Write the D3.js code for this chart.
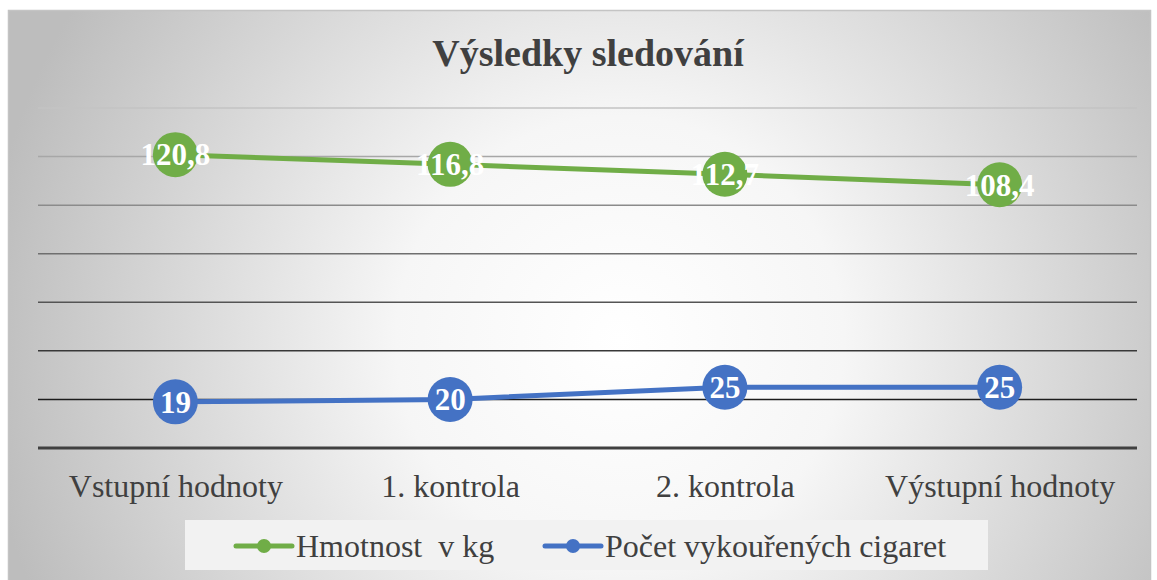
<!DOCTYPE html>
<html>
<head>
<meta charset="utf-8">
<script src="https://cdn.jsdelivr.net/npm/d3@7"></script>
<style>
  body { margin: 0; background: #fff; }
  svg { display: block; }
  svg text { font-family: "Liberation Serif", "Times New Roman", serif; }
</style>
</head>
<body>
<script>
// Chart data
let categories = ["Vstupní hodnoty", "1. kontrola", "2. kontrola", "Výstupní hodnoty"];
let weightValues = [120.8, 116.8, 112.7, 108.4];
let cigaretteValues = [19, 20, 25, 25];
let seriesNames = ["Hmotnost  v kg", "Počet vykouřených cigaret"];
let yTicks = [0, 20, 40, 60, 80, 100, 120, 140];

let svgWidth = 1157;
let svgHeight = 580;

let margin = { top: 108, right: 20, bottom: 132, left: 38 };
let chartWidth = 1137 - margin.left;
let chartHeight = 448 - margin.top;

let svg = d3.select("body")
  .append("svg")
  .attr("width", svgWidth)
  .attr("height", svgHeight);

// background gradient
let defs = svg.append("defs");
let grad = defs.append("radialGradient")
  .attr("id", "bg")
  .attr("gradientUnits", "userSpaceOnUse")
  .attr("cx", 620).attr("cy", 340).attr("r", 640);
grad.append("stop").attr("offset", "0%").attr("stop-color", "#ffffff");
grad.append("stop").attr("offset", "35%").attr("stop-color", "#f6f6f6");
grad.append("stop").attr("offset", "100%").attr("stop-color", "#bdbdbd");

svg.append("rect")
  .attr("x", 8.5).attr("y", 10.5)
  .attr("width", 1142).attr("height", 580)
  .attr("fill", "url(#bg)")
  .attr("stroke", "#c4c4c4")
  .attr("stroke-width", 1.5);

// title
svg.append("text")
  .attr("x", 588).attr("y", 66)
  .attr("text-anchor", "middle")
  .attr("font-size", 38)
  .attr("font-weight", "bold")
  .attr("fill", "#404040")
  .text("Výsledky sledování");

let chartGroup = svg.append("g")
  .attr("transform", `translate(${margin.left}, ${margin.top})`);

let xScale = d3.scalePoint()
  .domain(categories)
  .range([0, chartWidth])
  .padding(0.5);

let yScale = d3.scaleLinear()
  .domain([0, 140])
  .range([chartHeight, 0]);

// gridlines, darker toward the bottom
let gridColors = d3.scaleLinear()
  .domain([140, 0])
  .range(["#c3c3c3", "#000000"]);

chartGroup.append("g")
  .selectAll("line")
  .data(yTicks.filter(t => t > 0))
  .join("line")
  .attr("x1", 0).attr("x2", chartWidth)
  .attr("y1", d => yScale(d)).attr("y2", d => yScale(d))
  .attr("stroke", d => gridColors(d))
  .attr("stroke-width", 1.5);

// x axis
let bottomAxis = d3.axisBottom(xScale).tickSize(0).tickPadding(26);
let xAxis = chartGroup.append("g")
  .attr("transform", `translate(0, ${chartHeight})`)
  .call(bottomAxis);
xAxis.select(".domain")
  .attr("d", `M0,0H${chartWidth}`)
  .attr("stroke", "#404040")
  .attr("stroke-width", 3);
xAxis.selectAll("text")
  .attr("font-size", 32)
  .attr("fill", "#404040");

let series = [
  { name: seriesNames[0], values: weightValues, color: "#70ad47" },
  { name: seriesNames[1], values: cigaretteValues, color: "#4472c4" }
];

let drawLine = d3.line()
  .x((d, i) => xScale(categories[i]))
  .y(d => yScale(d));

series.forEach(function(s) {
  chartGroup.append("path")
    .attr("d", drawLine(s.values))
    .attr("fill", "none")
    .attr("stroke", s.color)
    .attr("stroke-width", 5)
    .attr("stroke-linecap", "round");

  chartGroup.selectAll(null)
    .data(s.values)
    .join("circle")
    .attr("cx", (d, i) => xScale(categories[i]))
    .attr("cy", d => yScale(d))
    .attr("r", 22.5)
    .attr("fill", s.color);

  chartGroup.selectAll(null)
    .data(s.values)
    .join("text")
    .attr("x", (d, i) => xScale(categories[i]))
    .attr("y", d => yScale(d))
    .attr("dy", "0.35em")
    .attr("text-anchor", "middle")
    .attr("font-size", 31)
    .attr("font-weight", "bold")
    .attr("fill", "#ffffff")
    .text(d => String(d).replace(".", ","));
});

// legend
let legend = svg.append("g");
legend.append("rect")
  .attr("x", 185).attr("y", 520)
  .attr("width", 803).attr("height", 50)
  .attr("fill", "#f2f2f2");

let legendX = [236, 545];
series.forEach(function(s, i) {
  let g = legend.append("g").attr("transform", `translate(${legendX[i]}, 546)`);
  g.append("line")
    .attr("x1", 0).attr("x2", 56)
    .attr("stroke", s.color)
    .attr("stroke-width", 5)
    .attr("stroke-linecap", "round");
  g.append("circle").attr("cx", 28).attr("r", 7).attr("fill", s.color);
  g.append("text")
    .attr("x", 60).attr("y", 0)
    .attr("dy", "0.35em")
    .attr("font-size", 32)
    .attr("fill", "#404040")
    .style("white-space", "pre")
    .text(s.name);
});
</script>
</body>
</html>
